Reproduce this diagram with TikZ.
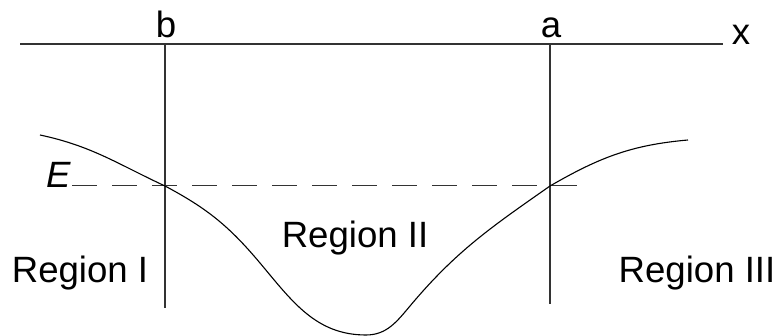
\documentclass[tikz,border=0pt]{standalone}
\usepackage{fontspec}
\setmainfont{Liberation Sans}
\usetikzlibrary{positioning}
\tikzset{
axis_line/.style={draw=black!80, line width=0.6pt},
level_line/.style={draw=black!80, line width=0.5pt, dash pattern=on 12.5pt off 7.5pt},
potential/.style={draw=black, line width=0.55pt},
tag/.style={font=\fontsize{18.3}{21}\selectfont, inner sep=0pt, anchor=base}
}

\begin{document}
\begin{tikzpicture}[x=0.5pt, y=0.5pt]
    \useasboundingbox (0,0) rectangle (779,336);
    % axis and the two turning points
    \coordinate (axis_l) at (20,292);
    \coordinate (axis_r) at (723,292);
    \coordinate (b_top) at (165,292);
    \coordinate (b_bot) at (165,28);
    \coordinate (a_top) at (550,292);
    \coordinate (a_bot) at (550,32);
    \draw[axis_line] (axis_l) -- (axis_r);
    \draw[axis_line] (b_top) -- (b_bot);
    \draw[axis_line] (a_top) -- (a_bot);
    \node[tag] (lbl_b) at (166,298) {b};
    \node[tag] (lbl_a) at (551,298) {a};
    \node[tag] (lbl_x) at (741,291) {x};

    % energy level
    \node[tag] (lbl_E) at (59,148) {\itshape E};
    \coordinate (E_l) at (72,150);
    \coordinate (E_r) at (588,150);
    \draw[level_line] (E_l) -- (E_r);

    % potential well
    \coordinate (pot_start) at (40,201);
    \coordinate (pot_b) at (165,150);
    \coordinate (pot_l) at (260,73);
    \coordinate (pot_min) at (366,1);
    \coordinate (pot_r) at (410,30);
    \coordinate (pot_a) at (550,150);
    \coordinate (pot_end) at (688,196);
    \draw[potential] (pot_start) to[out=-12, in=155] (pot_b)
        to[out=-28, in=130] (pot_l)
        to[out=-50, in=180] (pot_min)
        to[out=0, in=-130] (pot_r)
        to[out=50, in=-145] (pot_a)
        to[out=30, in=185] (pot_end);

    \node[tag] (reg_1) at (80,53) {Region I};
    \node[tag] (reg_2) at (355,88) {Region II};
    \node[tag] (reg_3) at (697,53) {Region III};
\end{tikzpicture}
\end{document}
